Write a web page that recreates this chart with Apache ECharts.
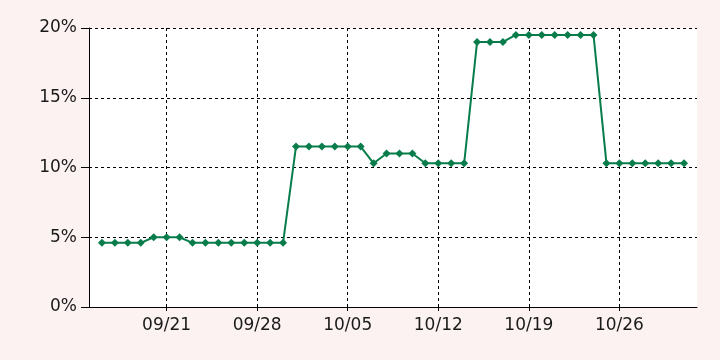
<!DOCTYPE html>
<html><head><meta charset="utf-8">
<script src="https://cdn.jsdelivr.net/npm/echarts@6/dist/echarts.min.js"></script>
<style>html,body{margin:0;padding:0;background:#fdf2f2;}#c{width:720px;height:360px;}</style>
</head><body><div id="c"></div>
<script>
// Dates from 09/15 to 11/01 (axis range); data on 09/16 .. 10/31
const categories = [
 '09/15','09/16','09/17','09/18','09/19','09/20','09/21','09/22','09/23','09/24','09/25','09/26','09/27','09/28','09/29','09/30',
 '10/01','10/02','10/03','10/04','10/05','10/06','10/07','10/08','10/09','10/10','10/11','10/12','10/13','10/14','10/15','10/16',
 '10/17','10/18','10/19','10/20','10/21','10/22','10/23','10/24','10/25','10/26','10/27','10/28','10/29','10/30','10/31','11/01'
];
const values = [
 null,
 4.6,4.6,4.6,4.6,5.0,5.0,5.0,4.6,4.6,4.6,4.6,4.6,4.6,4.6,4.6,
 11.5,11.5,11.5,11.5,11.5,11.5,10.3,11.0,11.0,11.0,10.3,10.3,10.3,10.3,
 19.0,19.0,19.0,19.5,19.5,19.5,19.5,19.5,19.5,19.5,
 10.3,10.3,10.3,10.3,10.3,10.3,10.3,
 null
];
const tickLabels = ['09/21','09/28','10/05','10/12','10/19','10/26'];

const showTick = (i, v) => tickLabels.indexOf(v) >= 0;
const font = 'DejaVu Sans';
const chart = echarts.init(document.getElementById('c'));
chart.setOption({
  backgroundColor: '#fdf2f2',
  animation: false,
  grid: { left: 89, right: 23, top: 28, bottom: 53, show: true, backgroundColor: '#ffffff', borderWidth: 0 },
  xAxis: {
    type: 'category', data: categories, boundaryGap: false,
    axisLine: { lineStyle: { color: '#000', width: 1 } },
    axisTick: { show: true, interval: showTick, length: 4, lineStyle: { color: '#000' } },
    axisLabel: { interval: showTick, color: '#1a1a1a', fontFamily: font, fontSize: 17, margin: 10 },
    splitLine: { show: true, interval: showTick, lineStyle: { color: '#000', type: [3, 3], width: 1 } }
  },
  yAxis: {
    type: 'value', min: 0, max: 20, interval: 5,
    axisLine: { show: true, lineStyle: { color: '#000', width: 1 } },
    axisTick: { show: true, length: 8, lineStyle: { color: '#000' } },
    axisLabel: { formatter: '{value}%', color: '#1a1a1a', fontFamily: font, fontSize: 17, margin: 12 },
    splitLine: { show: true, lineStyle: { color: '#000', type: [3, 3], width: 1 } }
  },
  series: [{
    type: 'line', data: values, connectNulls: false,
    symbol: 'diamond', symbolSize: 8,
    lineStyle: { color: '#087d4b', width: 2 },
    itemStyle: { color: '#087d4b' }
  }]
});
</script></body></html>
